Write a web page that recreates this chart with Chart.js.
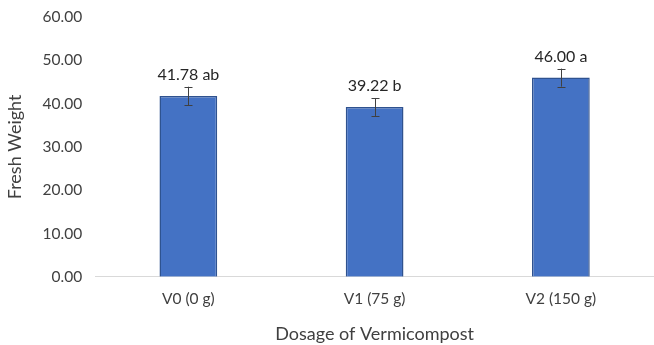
<!DOCTYPE html>
<html lang="en">
<head>
  <meta charset="UTF-8">
  <title>Fresh Weight</title>
  <script src="https://cdn.jsdelivr.net/npm/chart.js"></script>
  <style>
    body {
      margin: 0;
      padding: 0;
      background: #fff;
    }
    .wrap {
      width: 654px;
      height: 345px;
    }
  </style>
</head>
<body>
  <div class="wrap">
    <canvas id="chart" width="654" height="345"></canvas>
  </div>

  <script>
    // Chart data
    const categories = ["V0 (0 g)", "V1 (75 g)", "V2 (150 g)"];
    const freshWeight = [41.78, 39.22, 46.00];
    const errors = [2.12, 2.08, 2.08];
    const letters = ["ab", "b", "a"];
    const yTicks = [0, 10, 20, 30, 40, 50, 60];

    const fontFamily = "Lato, 'Open Sans', sans-serif";

    // Draws error bars and value labels above each bar
    const errorBarPlugin = {
      id: "errorBars",
      afterDatasetsDraw(chart) {
        const ctx = chart.ctx;
        const yScale = chart.scales.y;
        const meta = chart.getDatasetMeta(0);
        ctx.save();
        meta.data.forEach((bar, i) => {
          const v = freshWeight[i];
          const top = yScale.getPixelForValue(v + errors[i]);
          const bottom = yScale.getPixelForValue(v - errors[i]);
          const x = Math.round(bar.x) + 0.5;
          ctx.strokeStyle = "#404040";
          ctx.lineWidth = 1;
          ctx.beginPath();
          ctx.moveTo(x, top);
          ctx.lineTo(x, bottom);
          ctx.moveTo(x - 4, Math.round(top) + 0.5);
          ctx.lineTo(x + 4, Math.round(top) + 0.5);
          ctx.moveTo(x - 4, Math.round(bottom) + 0.5);
          ctx.lineTo(x + 4, Math.round(bottom) + 0.5);
          ctx.stroke();

          ctx.fillStyle = "#262626";
          ctx.font = "16px " + fontFamily;
          ctx.textAlign = "center";
          ctx.textBaseline = "alphabetic";
          ctx.fillText(v.toFixed(2) + " " + letters[i], bar.x, top - 7);
        });
        ctx.restore();
      }
    };

    const ctx = document.getElementById("chart").getContext("2d");
    new Chart(ctx, {
      type: "bar",
      data: {
        labels: categories,
        datasets: [{
          data: freshWeight,
          backgroundColor: "#4472C4",
          borderColor: "#2F528F",
          borderWidth: 1.5,
          categoryPercentage: 1,
          barPercentage: 0.31
        }]
      },
      options: {
        responsive: false,
        animation: false,
        layout: {
          padding: { top: 17, right: 0, bottom: 0, left: 4 }
        },
        plugins: {
          legend: { display: false },
          tooltip: { enabled: false }
        },
        scales: {
          x: {
            grid: { display: false, drawTicks: false },
            border: { color: "#d9d9d9", width: 1 },
            ticks: {
              color: "#404040",
              font: { family: fontFamily, size: 15.5 },
              padding: 13
            },
            title: {
              display: true,
              text: "Dosage of Vermicompost",
              color: "#404040",
              font: { family: fontFamily, size: 18 },
              padding: { top: 2, bottom: 0 }
            }
          },
          y: {
            min: 0,
            max: 60,
            afterBuildTicks(axis) {
              axis.ticks = yTicks.map(v => ({ value: v }));
            },
            afterFit(axis) {
              axis.paddingTop = 0;
            },
            grid: { display: false, drawTicks: false },
            border: { display: false },
            ticks: {
              color: "#404040",
              font: { family: fontFamily, size: 15.5 },
              padding: 13,
              callback: v => Number(v).toFixed(2)
            },
            title: {
              display: true,
              text: "Fresh Weight",
              color: "#404040",
              font: { family: fontFamily, size: 18 },
              padding: { top: 0, bottom: 4 }
            }
          }
        }
      },
      plugins: [errorBarPlugin]
    });
  </script>
</body>
</html>
